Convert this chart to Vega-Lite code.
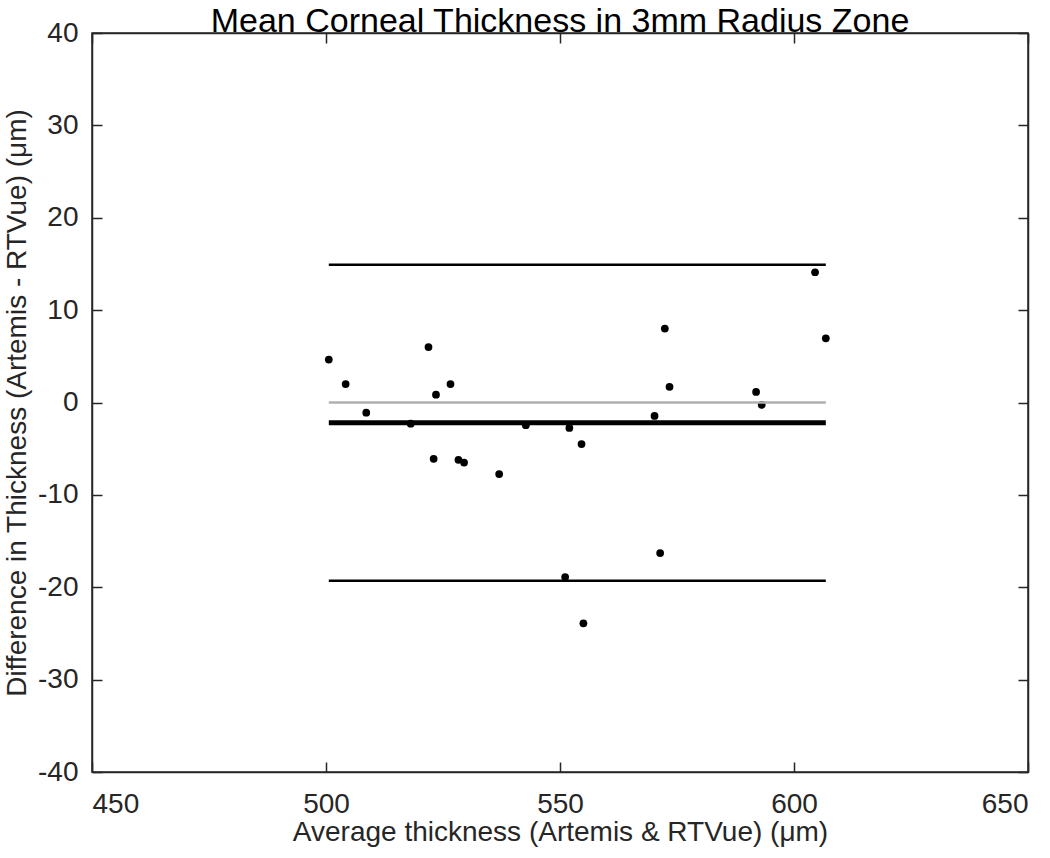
{
  "$schema": "https://vega.github.io/schema/vega-lite/v6.json",
  "width": 936,
  "height": 739,
  "autosize": {"type": "none"},
  "padding": {"left": 92, "top": 33, "right": 22, "bottom": 86},
  "background": "white",
  "config": {
    "view": {"stroke": "#262626", "strokeWidth": 1.5},
    "font": "Liberation Sans",
    "axis": {
      "grid": false,
      "domainColor": "#262626",
      "domainWidth": 1.5,
      "tickColor": "#262626",
      "tickWidth": 1.5,
      "tickSize": -10,
      "labelFont": "Liberation Sans",
      "labelFontSize": 28,
      "labelColor": "#262626",
      "titleFont": "Liberation Sans",
      "titleFontSize": 28,
      "titleFontWeight": "normal",
      "titleColor": "#262626"
    }
  },
  "title": {
    "text": "Mean Corneal Thickness in 3mm Radius Zone",
    "fontSize": 34,
    "fontWeight": "normal",
    "font": "Liberation Sans",
    "color": "#000000",
    "anchor": "middle",
    "offset": -20
  },
  "datasets": {
    "pts": [
      {"avg": 500.6, "diff": 4.65},
      {"avg": 504.2, "diff": 2.0},
      {"avg": 508.6, "diff": -1.1},
      {"avg": 518.1, "diff": -2.3},
      {"avg": 521.9, "diff": 6.0},
      {"avg": 523.0, "diff": -6.1},
      {"avg": 523.5, "diff": 0.85},
      {"avg": 526.6, "diff": 2.0},
      {"avg": 528.3, "diff": -6.2},
      {"avg": 529.5, "diff": -6.5},
      {"avg": 537.0, "diff": -7.75},
      {"avg": 542.7, "diff": -2.45},
      {"avg": 551.1, "diff": -18.9},
      {"avg": 552.0, "diff": -2.75},
      {"avg": 554.6, "diff": -4.5},
      {"avg": 555.0, "diff": -23.9},
      {"avg": 570.2, "diff": -1.45},
      {"avg": 571.4, "diff": -16.3},
      {"avg": 572.4, "diff": 8.0},
      {"avg": 573.4, "diff": 1.7},
      {"avg": 591.9, "diff": 1.15},
      {"avg": 593.1, "diff": -0.25},
      {"avg": 604.5, "diff": 14.1},
      {"avg": 606.8, "diff": 6.95}
    ],
    "lines": [
      {"kind": "zero", "start": 500.6, "end": 606.8, "level": 0},
      {"kind": "upper", "start": 500.6, "end": 606.8, "level": 14.9},
      {"kind": "lower", "start": 500.6, "end": 606.8, "level": -19.3}
    ],
    "meanline": [
      {"kind": "mean", "start": 500.6, "end": 606.8, "level": -2.2}
    ]
  },
  "layer": [
    {
      "data": {"name": "pts"},
      "mark": {"type": "point", "filled": true, "shape": "circle", "size": 60, "color": "#000000", "opacity": 1},
      "encoding": {
        "x": {
          "field": "avg", "type": "quantitative",
          "scale": {"domain": [450, 650], "nice": false, "zero": false},
          "axis": {"orient": "bottom", "values": [450, 500, 550, 600, 650], "title": "Average thickness (Artemis & RTVue) (μm)", "labelPadding": 28, "titlePadding": 0}
        },
        "y": {
          "field": "diff", "type": "quantitative",
          "scale": {"domain": [-40, 40], "nice": false, "zero": false},
          "axis": {"orient": "left", "values": [-40, -30, -20, -10, 0, 10, 20, 30, 40], "labelExpr": "replace(datum.label, '−', '-')", "title": "Difference in Thickness (Artemis - RTVue) (μm)", "titleFontSize": 28, "labelPadding": 24, "titlePadding": 6}
        }
      }
    },
    {
      "data": {"name": "lines"},
      "mark": {"type": "rule", "strokeWidth": 2.5},
      "encoding": {
        "x": {
          "field": "start", "type": "quantitative",
          "scale": {"domain": [450, 650], "nice": false, "zero": false},
          "axis": {"orient": "top", "values": [450, 500, 550, 600, 650], "labels": false, "title": null}
        },
        "x2": {"field": "end"},
        "y": {
          "field": "level", "type": "quantitative",
          "scale": {"domain": [-40, 40], "nice": false, "zero": false},
          "axis": {"orient": "right", "values": [-40, -30, -20, -10, 0, 10, 20, 30, 40], "labels": false, "title": null}
        },
        "color": {
          "field": "kind", "type": "nominal",
          "scale": {"domain": ["zero", "upper", "lower"], "range": ["#b0b0b0", "#000000", "#000000"]},
          "legend": null
        }
      }
    },
    {
      "data": {"name": "meanline"},
      "mark": {"type": "rule", "strokeWidth": 5, "color": "#000000"},
      "encoding": {
        "x": {"field": "start", "type": "quantitative", "axis": null},
        "x2": {"field": "end"},
        "y": {"field": "level", "type": "quantitative", "axis": null}
      }
    }
  ],
  "resolve": {"axis": {"x": "independent", "y": "independent"}}
}
